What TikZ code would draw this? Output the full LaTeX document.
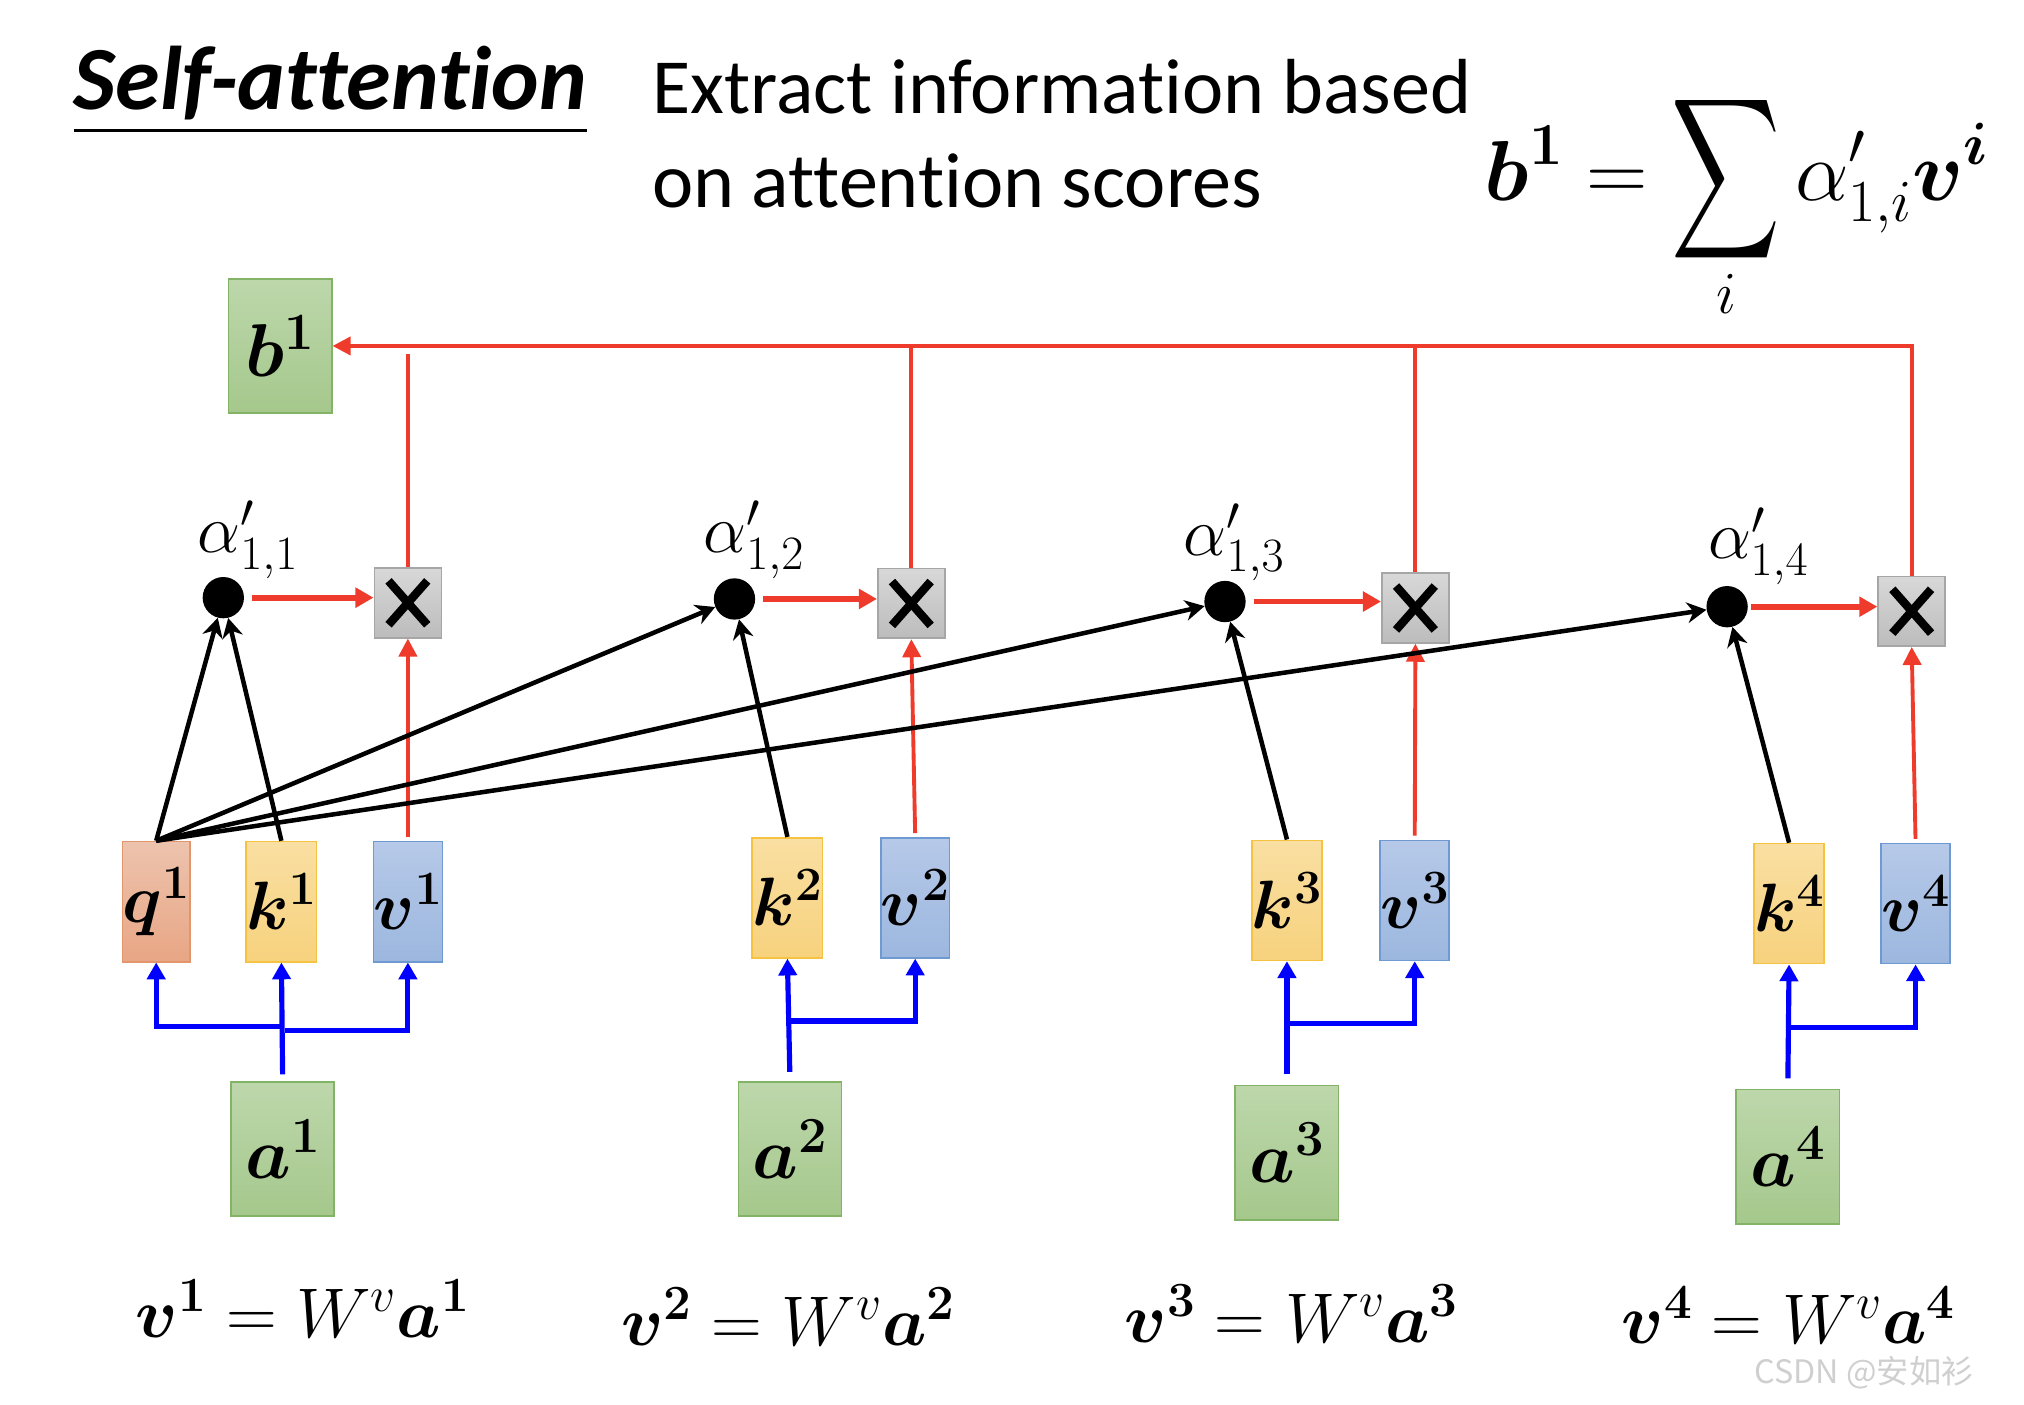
\documentclass[tikz,border=0pt]{standalone}
\usepackage{fix-cm}
\usepackage{amsmath,bm,graphicx}
\usepackage[no-math]{fontspec}
\setmainfont{Carlito}[Ligatures=CommonOff]
\newfontfamily\cjkfont{Noto Sans CJK SC}
\usetikzlibrary{arrows.meta,calc}
\definecolor{qtop}{HTML}{EDC3AD}\definecolor{qbot}{HTML}{E8A685}\definecolor{qdraw}{HTML}{E3956C}
\definecolor{ktop}{HTML}{F9DFA2}\definecolor{kbot}{HTML}{F7D27E}\definecolor{kdraw}{HTML}{F6C242}
\definecolor{vtop}{HTML}{B6C9E8}\definecolor{vbot}{HTML}{9CB7DF}\definecolor{vdraw}{HTML}{6F9AD1}
\definecolor{gtop}{HTML}{BDD7AB}\definecolor{gbot}{HTML}{A5C88C}\definecolor{gdraw}{HTML}{82B366}
\definecolor{mtop}{HTML}{D8D8D8}\definecolor{mbot}{HTML}{BCBCBC}\definecolor{mdraw}{HTML}{A6A6A6}
\definecolor{myred}{HTML}{EE3B2B}\definecolor{myblue}{HTML}{0000FF}\definecolor{wmgray}{HTML}{CFCFCF}
\newcommand{\bigsumsym}{\mathop{\vcenter{\hbox{\scalebox{2.35}[3.5]{$\displaystyle\sum$}}}}}
\tikzset{
  boxbase/.style={rectangle, inner sep=0pt, line width=1.3pt, minimum width=50pt, minimum height=93pt,
    font=\fontsize{53}{53}\selectfont},
  qbox/.style={boxbase, draw=qdraw, top color=qtop, bottom color=qbot},
  kbox/.style={boxbase, draw=kdraw, top color=ktop, bottom color=kbot},
  vbox/.style={boxbase, draw=vdraw, top color=vtop, bottom color=vbot},
  gbox/.style={rectangle, inner sep=0pt, line width=1.3pt, minimum width=80pt, minimum height=104pt,
    draw=gdraw, top color=gtop, bottom color=gbot, font=\fontsize{56}{56}\selectfont},
  mult/.style={rectangle, inner sep=0pt, line width=1.3pt, minimum width=52pt, minimum height=54pt,
    draw=mdraw, top color=mtop, bottom color=mbot,
    path picture={
      \draw[draw=black, line width=6.5pt] ([shift={(-15pt,-17pt)}]path picture bounding box.center) -- ([shift={(15pt,17pt)}]path picture bounding box.center);
      \draw[draw=black, line width=6.5pt] ([shift={(-15pt,17pt)}]path picture bounding box.center) -- ([shift={(15pt,-17pt)}]path picture bounding box.center);
    }},
  dotnode/.style={circle, fill=black, minimum size=32pt, inner sep=0pt},
  alab/.style={anchor=base west, inner sep=0pt, font=\fontsize{53}{53}\selectfont},
  eqlab/.style={anchor=base west, inner sep=0pt, font=\fontsize{54.5}{54.5}\selectfont},
  redline/.style={draw=myred, line width=3pt},
  redarrow/.style={draw=myred, line width=3pt, -{Triangle[width=14pt,length=14pt]}},
  redarrowthick/.style={draw=myred, line width=4.5pt, -{Triangle[width=15pt,length=14pt]}},
  blackarrow/.style={draw=black, line width=3.5pt, -{Stealth[width=16pt,length=15pt]}},
  bluearrow/.style={draw=myblue, line width=4pt, -{Triangle[width=14pt,length=13pt]}},
}
\begin{document}
\begin{tikzpicture}[x=1pt,y=-1pt]
\useasboundingbox (0,0) rectangle (1568,1088);
% title
\node[anchor=base west, inner sep=0pt, font=\fontsize{70}{70}\selectfont\bfseries\itshape] (title) at (57,85) {Self-attention};
\draw[line width=2.6pt] (title.west |- 0,101) -- (title.east |- 0,101);
\node[anchor=base west, inner sep=0pt, font=\fontsize{60.5}{60.5}\selectfont] (ext1) at (505,88) {Extract information based};
\node[anchor=base west, inner sep=0pt, font=\fontsize{60.5}{60.5}\selectfont] (ext2) at (505,161) {on attention scores};
\node[anchor=base west, inner sep=0pt, font=\fontsize{66}{66}\selectfont] (formula) at (1150,155)
  {$\displaystyle \bm{b^{1}} = \bigsumsym\limits_{i} \alpha'_{1,i}\bm{v}^{\bm{i}}$};
% b1
\node[gbox, font=\fontsize{58}{58}\selectfont] (b1) at (217,268) {$\bm{b^{1}}$};
% multiply boxes
\node[mult] (x1) at (316,467) {};
\node[mult] (x2) at (706,467.5) {};
\node[mult] (x3) at (1096.5,471) {};
\node[mult] (x4) at (1481,473.5) {};
% dots
\node[dotnode] (d1) at (173,463) {};
\node[dotnode] (d2) at (569,464) {};
\node[dotnode] (d3) at (949,466) {};
\node[dotnode] (d4) at (1338,470) {};
\node[alab] (l1) at (153,428) {$\alpha'_{1,1}$};
\node[alab] (l2) at (545,428) {$\alpha'_{1,2}$};
\node[alab] (l3) at (917,430) {$\alpha'_{1,3}$};
\node[alab] (l4) at (1323,433) {$\alpha'_{1,4}$};
% q k v
\node[qbox] (q1) at (121,698.5) {$\bm{q^{1}}$};
\node[kbox] (k1) at (218,698.5) {$\bm{k^{1}}$};
\node[vbox] (v1) at (316,698.5) {$\bm{v^{1}}$};
\node[kbox] (k2) at (610,695.5) {$\bm{k^{2}}$};
\node[vbox] (v2) at (709,695.5) {$\bm{v^{2}}$};
\node[kbox] (k3) at (997,697.5) {$\bm{k^{3}}$};
\node[vbox] (v3) at (1096,697.5) {$\bm{v^{3}}$};
\node[kbox] (k4) at (1386,700) {$\bm{k^{4}}$};
\node[vbox] (v4) at (1484,700) {$\bm{v^{4}}$};
% a
\node[gbox] (a1) at (219,890) {$\bm{a^{1}}$};
\node[gbox] (a2) at (612,890) {$\bm{a^{2}}$};
\node[gbox] (a3) at (997,893) {$\bm{a^{3}}$};
\node[gbox] (a4) at (1385,896) {$\bm{a^{4}}$};
% equations
\node[eqlab] (e1) at (105,1036) {$\bm{v^{1}} = W^{v}\bm{a^{1}}$};
\node[eqlab] (e2) at (481,1042) {$\bm{v^{2}} = W^{v}\bm{a^{2}}$};
\node[eqlab] (e3) at (871,1040) {$\bm{v^{3}} = W^{v}\bm{a^{3}}$};
\node[eqlab] (e4) at (1256,1041) {$\bm{v^{4}} = W^{v}\bm{a^{4}}$};
% red bus
\draw[redarrow] (x4.north) |- (b1.east);
\draw[redline, shorten >=6pt] (x1.north) -- (x1.north |- b1.east);
\draw[redline] (x2.north) -- (x2.north |- b1.east);
\draw[redline] (x3.north) -- (x3.north |- b1.east);
% red dot->mult
\draw[redarrowthick] ([xshift=6pt]d1.east) -- (x1.west |- d1.east);
\draw[redarrowthick] ([xshift=6pt]d2.east) -- (x2.west |- d2.east);
\draw[redarrowthick] ([xshift=6pt]d3.east) -- (x3.west |- d3.east);
\draw[redarrowthick] ([xshift=2pt]d4.east) -- (x4.west |- d4.east);
% red v->mult
\draw[redarrow, shorten <=3pt] (v1.north) -- (x1.south);
\draw[redarrow, shorten <=3pt] (v2.north) -- (x2.south);
\draw[redarrow, shorten <=3pt] (v3.north) -- (x3.south);
\draw[redarrow, shorten <=3pt] (v4.north) -- (x4.south);
% black arrows
\draw[blackarrow] (q1.north) -- (d1);
\draw[blackarrow] (k1.north) -- (d1);
\draw[blackarrow] (q1.north) -- (d2);
\draw[blackarrow] (q1.north) -- (d3);
\draw[blackarrow] (q1.north) -- (d4);
\draw[blackarrow] (k2.north) -- (d2);
\draw[blackarrow] (k3.north) -- (d3);
\draw[blackarrow] (k4.north) -- (d4);
% blue
\coordinate (j1) at (219,795);
\coordinate (j1b) at (221,798);
\coordinate (j2) at (612,791);
\coordinate (j3) at (998,793);
\coordinate (j4) at (1387,796);
\draw[bluearrow, shorten <=5pt] (a1.north) -- (k1.south);
\draw[bluearrow] (j1) -| (q1.south);
\draw[bluearrow] (j1b) -| (v1.south);
\draw[bluearrow, shorten <=7pt] (a2.north) -- (k2.south);
\draw[bluearrow] (j2) -| (v2.south);
\draw[bluearrow, shorten <=8pt] (a3.north) -- (k3.south);
\draw[bluearrow] (j3) -| (v3.south);
\draw[bluearrow, shorten <=8pt] (a4.north) -- (k4.south);
\draw[bluearrow] (j4) -| (v4.south);
% watermark
\node[anchor=base west, inner sep=0pt, text=wmgray, font=\cjkfont\fontsize{25}{25}\selectfont] (wm) at (1359,1072) {CSDN @安如衫};
\end{tikzpicture}
\end{document}
